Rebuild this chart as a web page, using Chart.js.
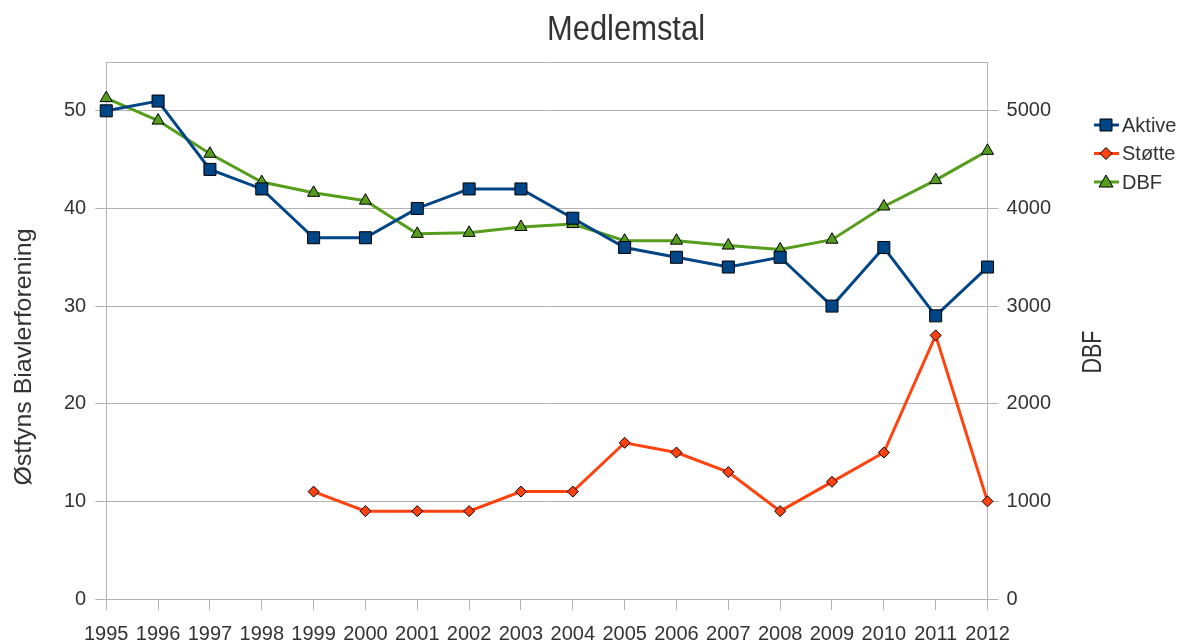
<!DOCTYPE html>
<html>
<head>
<meta charset="utf-8">
<script src="https://cdn.jsdelivr.net/npm/chart.js@4"></script>
<style>
  html, body { margin: 0; padding: 0; background: #fff; }
  #wrap { width: 1183px; height: 640px; }
</style>
</head>
<body>
<div id="wrap"><canvas id="chart" width="1183" height="640"></canvas></div>
<script>
const years = ['1995', '1996', '1997', '1998', '1999', '2000', '2001', '2002', '2003',
    '2004', '2005', '2006', '2007', '2008', '2009', '2010', '2011', '2012'];
const aktive = [50, 51, 44, 42, 37, 37, 40, 42, 42, 39, 36, 35, 34, 35, 30, 36, 29, 34];
const stotte = [null, null, null, null, 11, 9, 9, 9, 11, 11, 16, 15, 13, 9, 12, 15, 27, 10];
const dbf = [5130, 4900, 4560, 4270, 4160, 4080, 3740, 3750, 3810, 3840, 3670, 3670,
    3620, 3580, 3680, 4020, 4290, 4590];
const leftTicks = [0, 10, 20, 30, 40, 50];
const rightTicks = [0, 1000, 2000, 3000, 4000, 5000];

const FONT = "'Liberation Sans', Arial, sans-serif";
const TEXT = '#333333';
const GRID = '#b3b3b3';

const SERIES = [
    { label: 'Aktive', data: aktive, color: '#004586', point: 'rect', radius: 8.5, axis: 'y' },
    { label: 'Støtte', data: stotte, color: '#ff420e', point: 'rectRot', radius: 5.5, axis: 'y' },
    { label: 'DBF', data: dbf, color: '#579d1c', point: 'triangle', radius: 7, axis: 'y2' },
];

// Text squeezed to a given width (the original uses narrow, tall lettering).
function fitText(ctx, text, size, width, x, y, angle) {
    ctx.save();
    ctx.font = `${size}px ${FONT}`;
    ctx.fillStyle = TEXT;
    ctx.textAlign = 'center';
    ctx.textBaseline = 'middle';
    ctx.translate(x, y);
    ctx.rotate(angle);
    ctx.scale(width / ctx.measureText(text).width, 1);
    ctx.fillText(text, 0, 0);
    ctx.restore();
}

// Plot frame top edge, titles and the line-and-marker legend.
const framePlugin = {
    id: 'frame',
    beforeDatasetsDraw(chart) {
        const { ctx, chartArea: a } = chart;
        ctx.save();
        ctx.strokeStyle = GRID;
        ctx.lineWidth = 1;
        ctx.beginPath();
        ctx.moveTo(a.left, a.top + 0.5);
        ctx.lineTo(a.right, a.top + 0.5);
        ctx.stroke();
        ctx.restore();
    },
    afterDraw(chart) {
        const { ctx } = chart;
        fitText(ctx, 'Medlemstal', 35, 158, 626, 30, 0);
        fitText(ctx, 'Østfyns Biavlerforening', 24, 257, 24, 357, -Math.PI / 2);
        fitText(ctx, 'DBF', 27, 43, 1094, 352, -Math.PI / 2);

        ctx.save();
        ctx.font = `20px ${FONT}`;
        ctx.textBaseline = 'middle';
        SERIES.forEach((s, i) => {
            const y = 125 + i * 28.5;
            const x = 1094;
            const cx = x + 12;
            ctx.strokeStyle = s.color;
            ctx.lineWidth = 3;
            ctx.beginPath();
            ctx.moveTo(x, y);
            ctx.lineTo(x + 25, y);
            ctx.stroke();
            ctx.fillStyle = s.color;
            ctx.strokeStyle = '#000';
            ctx.lineWidth = 1;
            ctx.beginPath();
            if (s.point === 'rect') {
                ctx.rect(cx - 6, y - 6, 12, 12);
            } else if (s.point === 'rectRot') {
                ctx.moveTo(cx, y - 6); ctx.lineTo(cx + 6, y);
                ctx.lineTo(cx, y + 6); ctx.lineTo(cx - 6, y); ctx.closePath();
            } else {
                ctx.moveTo(cx, y - 7); ctx.lineTo(cx + 7, y + 5);
                ctx.lineTo(cx - 7, y + 5); ctx.closePath();
            }
            ctx.fill();
            ctx.stroke();
            ctx.fillStyle = TEXT;
            ctx.fillText(s.label, x + 28, y + 1);
        });
        ctx.restore();
    },
};

new Chart(document.getElementById('chart'), {
    type: 'line',
    data: {
        labels: years,
        datasets: SERIES.map(s => ({
            label: s.label,
            data: s.data,
            yAxisID: s.axis,
            borderColor: s.color,
            backgroundColor: s.color,
            pointBackgroundColor: s.color,
            pointBorderColor: '#000',
            pointBorderWidth: 1,
            pointStyle: s.point,
            pointRadius: s.radius,
            borderWidth: 3,
            tension: 0,
            spanGaps: false,
        })),
    },
    options: {
        responsive: false,
        animation: false,
        layout: { padding: { top: 62, right: 124, left: 13, bottom: -18 } },
        plugins: {
            legend: { display: false },
            tooltip: { enabled: false },
            title: { display: false },
        },
        scales: {
            x: {
                offset: false,
                grid: { drawOnChartArea: false, drawTicks: true, tickLength: 11, color: GRID },
                border: { color: GRID },
                ticks: { color: TEXT, font: { family: FONT, size: 20 }, maxRotation: 0, autoSkip: false, padding: 12 },
            },
            y: {
                position: 'left',
                min: 0, max: 55,
                afterBuildTicks: ax => { ax.ticks = leftTicks.map(v => ({ value: v })); },
                grid: { color: GRID, tickLength: 11 },
                border: { color: GRID },
                ticks: { color: TEXT, font: { family: FONT, size: 20 }, padding: 9 },
                title: {
                    display: true, text: 'Østfyns Biavlerforening', color: 'rgba(0,0,0,0)',
                    font: { family: FONT, size: 20 }, padding: { bottom: 14 },
                },
            },
            y2: {
                position: 'right',
                min: 0, max: 5500,
                afterBuildTicks: ax => { ax.ticks = rightTicks.map(v => ({ value: v })); },
                grid: { drawOnChartArea: false, color: GRID, tickLength: 11 },
                border: { color: GRID },
                ticks: { color: TEXT, font: { family: FONT, size: 20 }, padding: 8, callback: v => String(v) },
            },
        },
    },
    plugins: [framePlugin],
});
</script>
</body>
</html>
